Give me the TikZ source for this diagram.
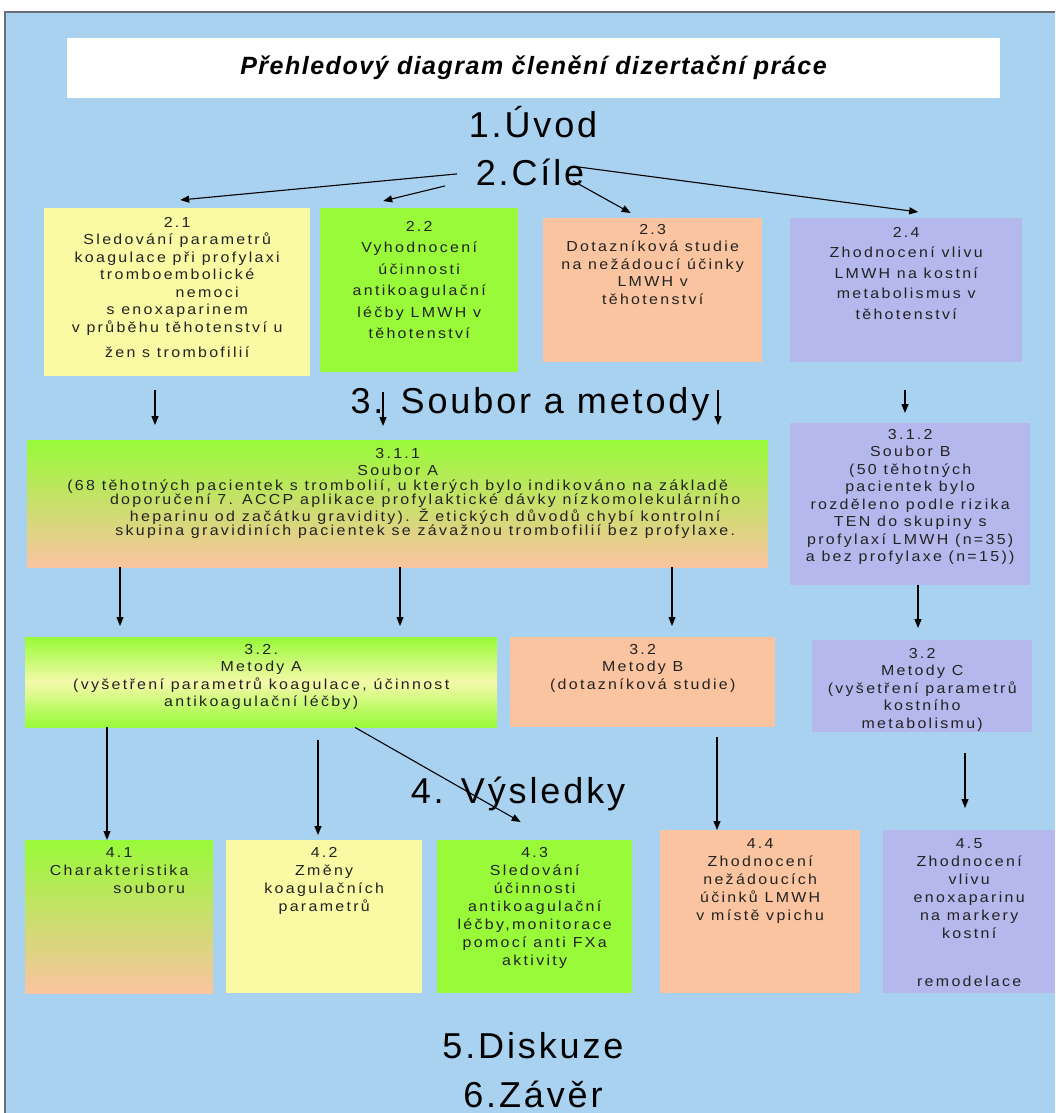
\documentclass[tikz,border=0pt]{standalone}
\usepackage{fontspec}
\setmainfont{Liberation Sans}
\newfontfamily\boxfont[LetterSpace=16, FakeStretch=1.1]{Liberation Sans}
\newfontfamily\headfont[LetterSpace=8]{Liberation Sans}
\newfontfamily\titlefont[LetterSpace=6]{Liberation Sans}
\usetikzlibrary{arrows.meta, positioning, calc}
\definecolor{skyblue}{RGB}{168,210,240}
\definecolor{frameline}{RGB}{105,110,120}
\definecolor{textdark}{RGB}{35,35,35}
\definecolor{boxyellow}{RGB}{250,250,165}
\definecolor{paleyellow}{RGB}{244,250,170}
\definecolor{boxgreen}{RGB}{152,250,56}
\definecolor{boxpeach}{RGB}{250,196,160}
\definecolor{boxlav}{RGB}{180,184,236}
% top-aligned text block of fixed size
\newcommand{\boxtext}[3]{\parbox[t][#2][t]{#1}{\centering #3}}
\tikzset{
  cell/.style={inner sep=0pt, anchor=north west, text=textdark,
    font=\boxfont\fontsize{14.5}{17.5}\selectfont},
  lowcell/.style={cell, font=\boxfont\fontsize{14.5}{18}\selectfont},
  yellowcell/.style={fill=boxyellow},
  greencell/.style={fill=boxgreen},
  peachcell/.style={fill=boxpeach},
  lavcell/.style={fill=boxlav},
  heading/.style={inner sep=0pt, anchor=base, font=\headfont\fontsize{36}{40}\selectfont, text=black},
  arrow/.style={-{Triangle[length=9pt,width=7pt]}, line width=1.1pt, color=black}
}

\begin{document}
\begin{tikzpicture}[x=1pt, y=-1pt]
  \useasboundingbox (0,0) rectangle (1055,1113);
  % Background
  \fill[skyblue] (5,12) rectangle (1055,1113);
  \draw[frameline, line width=1.5pt] (5,1113) -- (5,12) -- (1055,12);

  % Title
  \node[fill=white, minimum width=933pt, minimum height=60pt, inner sep=0pt,
        font=\titlefont\fontsize{25}{28}\selectfont\bfseries\itshape] (title) at (533.5,68)
        {Přehledový diagram členění dizertační práce};

  % Chapters
  \node[heading] (uvod) at (533,137) {1.Úvod};
  \node[heading] (cile) at (530,185) {2.Cíle};
  \node[heading] (soubor) at (530,413) {3. Soubor a metody};
  \node[heading] (vysledky) at (518,803) {4. Výsledky};
  \node[heading] (diskuze) at (533,1058) {5.Diskuze};
  \node[heading] (zaver) at (533,1107) {6.Závěr};

  % Goals
  \node[cell, yellowcell] (g21) at (44,208) {\boxtext{266pt}{168pt}{\vspace*{9pt}2.1\\Sledování parametrů\\koagulace při profylaxi\\tromboembolické\\\hspace*{60pt}nemoci\\s enoxaparinem\\v průběhu těhotenství u\\[8pt]žen s trombofilií}};
  \node[cell, greencell, font=\boxfont\fontsize{14.5}{21.5}\selectfont] (g22) at (320,208) {\boxtext{198pt}{164pt}{\vspace*{13pt}2.2\\Vyhodnocení\\účinnosti\\antikoagulační\\léčby LMWH v\\těhotenství}};
  \node[cell, peachcell] (g23) at (543,218) {\boxtext{219pt}{144pt}{\vspace*{6pt}2.3\\Dotazníková studie\\na nežádoucí účinky\\LMWH v\\těhotenství}};
  \node[cell, lavcell, font=\boxfont\fontsize{14.5}{20.5}\selectfont] (g24) at (790,218) {\boxtext{232pt}{144pt}{\vspace*{9pt}2.4\\Zhodnocení vlivu\\LMWH na kostní\\metabolismus v\\těhotenství}};

  \draw[arrow] ([xshift=-73pt,yshift=-2pt]cile.center) -- ([xshift=3pt,yshift=8pt]g21.north);
  \draw[arrow] ([xshift=-85pt,yshift=-14pt]cile.center) -- ([xshift=-36pt,yshift=7pt]g22.north);
  \draw[arrow] ([xshift=43pt,yshift=-9pt]cile.center) -- ([xshift=-22pt,yshift=5pt]g23.north);
  \draw[arrow] ([xshift=48pt,yshift=5pt]cile.center) -- ([xshift=12pt,yshift=6pt]g24.north);

  % Cohorts
  \node[cell, top color=boxgreen, bottom color=boxpeach] (s311) at (27,440) {\boxtext{741pt}{127pt}{\vspace*{8pt}3.1.1\\Soubor A\\[1pt]\fontsize{14.5}{14}\selectfont
    (68 těhotných pacientek s trombolií, u kterých bylo indikováno na základě\\
    \hspace*{55pt}doporučení 7. ACCP aplikace profylaktické dávky nízkomolekulárního\\
    \hspace*{55pt}heparinu od začátku gravidity). Ž etických důvodů chybí kontrolní\\
    \hspace*{55pt}skupina gravidiních pacientek se závažnou trombofilií bez profylaxe.}};
  \node[cell, lavcell] (s312) at (790,423) {\boxtext{240pt}{162pt}{\vspace*{6pt}3.1.2\\Soubor B\\(50 těhotných\\pacientek bylo\\rozděleno podle rizika\\TEN do skupiny s\\profylaxí LMWH (n=35)\\a bez profylaxe (n=15))}};

  \draw[arrow, shorten <=14pt, shorten >=15pt] (g21.south -| 155,0) -- (s311.north -| 155,0);
  \draw[arrow, shorten <=20pt, shorten >=14pt] (g22.south -| 383,0) -- (s311.north -| 383,0);
  \draw[arrow, shorten <=28pt, shorten >=15pt] (g23.south -| 718,0) -- (s311.north -| 718,0);
  \draw[arrow, shorten <=28pt, shorten >=10pt] (g24.south -| 905,0) -- (s312.north -| 905,0);

  % Methods
  \node[cell, top color=boxgreen, bottom color=boxgreen, middle color=paleyellow] (ma) at (25,637) {\boxtext{472pt}{90pt}{\vspace*{7pt}3.2.\\Metody A\\(vyšetření parametrů koagulace, účinnost\\antikoagulační léčby)}};
  \node[cell, peachcell] (mb) at (510,637) {\boxtext{265pt}{90pt}{\vspace*{7pt}3.2\\Metody B\\(dotazníková studie)}};
  \node[cell, lavcell] (mc) at (812,640) {\boxtext{220pt}{92pt}{\vspace*{8pt}3.2\\Metody C\\(vyšetření parametrů\\kostního\\metabolismu)}};

  \draw[arrow, shorten >=11pt] (s311.south -| 120,0) -- (ma.north -| 120,0);
  \draw[arrow, shorten >=11pt] (s311.south -| 400,0) -- (ma.north -| 400,0);
  \draw[arrow, shorten >=11pt] (s311.south -| 672,0) -- (mb.north -| 672,0);
  \draw[arrow, shorten >=12pt] (s312.south -| 918,0) -- (mc.north -| 918,0);

  % Results
  \node[lowcell, top color=boxgreen, bottom color=boxpeach] (v41) at (25,840) {\boxtext{188pt}{153pt}{\vspace*{7pt}4.1\\Charakteristika\\\hspace*{60pt}souboru}};
  \node[lowcell, yellowcell] (v42) at (226,840) {\boxtext{196pt}{153pt}{\vspace*{7pt}4.2\\Změny\\koagulačních\\parametrů}};
  \node[lowcell, greencell] (v43) at (437,840) {\boxtext{195pt}{153pt}{\vspace*{7pt}4.3\\Sledování\\účinnosti\\antikoagulační\\léčby,monitorace\\pomocí anti FXa\\aktivity}};
  \node[lowcell, peachcell] (v44) at (660,830) {\boxtext{200pt}{163pt}{\vspace*{8pt}4.4\\Zhodnocení\\nežádoucích\\účinků LMWH\\v místě vpichu}};
  \node[lowcell, lavcell] (v45) at (883,830) {\boxtext{172pt}{163pt}{\vspace*{8pt}4.5\\Zhodnocení\\vlivu\\enoxaparinu\\na markery\\kostní\\[30pt]remodelace}};

  \draw[arrow] (ma.south -| 107,0) -- (v41.north -| 107,0);
  \draw[arrow, shorten <=13pt, shorten >=5pt] (ma.south -| 318,0) -- (v42.north -| 318,0);
  \draw[arrow] (ma.south -| 355,0) -- ([xshift=-14pt,yshift=18pt]v43.north);
  \draw[arrow, shorten <=10pt] (mb.south -| 717,0) -- (v44.north -| 717,0);
  \draw[arrow, shorten <=21pt, shorten >=22pt] (mc.south -| 965,0) -- (v45.north -| 965,0);
\end{tikzpicture}
\end{document}
